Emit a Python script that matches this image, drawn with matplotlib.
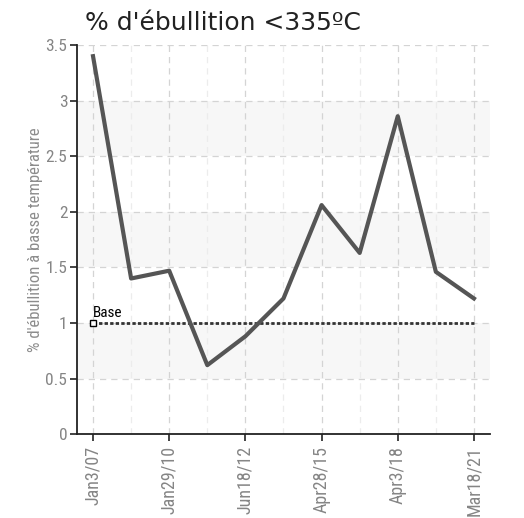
import matplotlib
matplotlib.use("Agg")
import matplotlib.pyplot as plt

title = "% d'ébullition <335ºC"
ylabel = "% d'ébullition à basse température"
tick_labels = ["Jan3/07", "Jan29/10", "Jun18/12", "Apr28/15", "Apr3/18", "Mar18/21"]
values = [3.40, 1.40, 1.47, 0.62, 0.88, 1.22, 2.06, 1.63, 2.86, 1.46, 1.22]
base_value = 1.0
base_label = "Base"
y_ticks = [0, 0.5, 1, 1.5, 2, 2.5, 3, 3.5]
y_tick_labels = ["0", "0.5", "1", "1.5", "2", "2.5", "3", "3.5"]

narrow = ["Roboto Condensed", "DejaVu Sans"]

fig = plt.figure(figsize=(5.24, 5.18), dpi=100)
ax = fig.add_axes([0.147, 0.162, 0.788, 0.751])

n = len(values)
xs = list(range(n))
ax.set_xlim(-0.42, n - 1 + 0.42)
ax.set_ylim(0, 3.5)

# alternating bands
for lo in [0.5, 1.5, 2.5]:
    ax.axhspan(lo, lo + 0.5, color="#f7f7f7", zorder=0, lw=0)

# grid
for y in y_ticks[1:]:
    ax.axhline(y, color="#d4d4d4", ls=(0, (5, 4)), lw=0.9, zorder=1)
for i in range(0, n, 2):
    ax.axvline(i, color="#d4d4d4", ls=(0, (5, 4)), lw=0.9, zorder=1)
for i in range(1, n, 2):
    ax.axvline(i, color="#ececec", ls=(0, (5, 4)), lw=0.9, zorder=1)

# base line
ax.plot([0, n - 1], [base_value, base_value], color="#333333", ls=(0, (1.2, 0.8)), lw=2.0, zorder=3)
ax.plot([0], [base_value], marker="s", ms=5, mfc="white", mec="black", mew=1.0, zorder=4, clip_on=False)
ax.annotate(base_label, (0, base_value), xytext=(0, 2), textcoords="offset points",
            fontsize=11, family=narrow, color="black", ha="left", va="bottom", zorder=5)

# main line
ax.plot(xs, values, color="#555555", lw=3.0, zorder=4)

ax.set_xticks(list(range(0, n, 2)))
ax.set_xticklabels(tick_labels, rotation=90, family=narrow, fontsize=13, color="#858585")
ax.set_yticks(y_ticks)
ax.set_yticklabels(y_tick_labels, family=narrow, fontsize=12.5, color="#858585")
ax.tick_params(axis="both", direction="out", length=5, width=1.2, color="#222222")
ax.tick_params(axis="y", pad=2)

for s in ["top", "right"]:
    ax.spines[s].set_visible(False)
for s in ["left", "bottom"]:
    ax.spines[s].set_color("#222222")
    ax.spines[s].set_linewidth(1.3)

ax.set_ylabel(ylabel, family=narrow, fontsize=12, color="#8c8c8c")
ax.yaxis.set_label_coords(-0.082, 0.5)
fig.text(0.162, 0.978, title, fontsize=18, family="DejaVu Sans", color="#222222", ha="left", va="top")

fig.savefig("out.png", dpi=100)
